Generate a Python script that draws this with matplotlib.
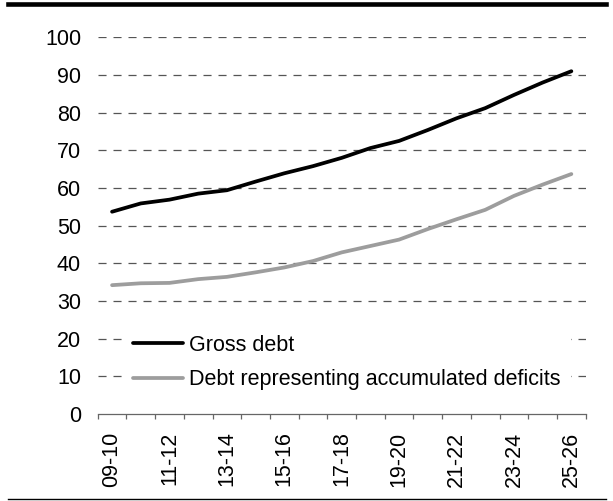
import matplotlib
matplotlib.use("Agg")
import matplotlib.pyplot as plt
from matplotlib.lines import Line2D

plt.rcParams['font.family'] = ['Liberation Sans', 'DejaVu Sans']
plt.rcParams['lines.scale_dashes'] = False

# fiscal years and series (per cent of GDP)
years = ['09-10', '10-11', '11-12', '12-13', '13-14', '14-15', '15-16', '16-17', '17-18',
         '18-19', '19-20', '20-21', '21-22', '22-23', '23-24', '24-25', '25-26']
gross_debt = [53.7, 55.9, 56.9, 58.5, 59.4, 61.7, 63.9, 65.8, 68.0,
              70.6, 72.5, 75.4, 78.5, 81.2, 84.7, 88.0, 91.0]
deficit_debt = [34.2, 34.7, 34.8, 35.8, 36.4, 37.6, 38.9, 40.6, 42.9,
                44.6, 46.3, 49.1, 51.7, 54.2, 57.9, 60.9, 63.7]
yticks = [0, 10, 20, 30, 40, 50, 60, 70, 80, 90, 100]

fs = 15.5
fig = plt.figure(figsize=(6.13, 5.01), dpi=100)
ax = fig.add_axes([0.1594, 0.1737, 0.7961, 0.7518])

x = list(range(len(years)))
ax.plot(x, gross_debt, color='black', lw=2.7, label='Gross debt', solid_capstyle='round', zorder=3)
ax.plot(x, deficit_debt, color='#9d9d9d', lw=2.7, label='Debt representing accumulated deficits',
        solid_capstyle='round', zorder=3)

ax.set_xlim(-0.5, len(years) - 0.5)
ax.set_ylim(0, 100)
ax.set_yticks(yticks)
for v in yticks[1:]:
    ax.axhline(v, color='#555555', lw=0.9, ls=(0, (5.8, 5.0)), zorder=1)

ax.set_xticks(x[::2])
ax.set_xticklabels(years[::2], rotation=90, fontsize=fs)
ax.set_xticks([i - 0.5 for i in range(len(years) + 1)], minor=True)
ax.tick_params(axis='x', which='major', length=0, pad=12.7)
ax.tick_params(axis='x', which='minor', length=3.8, width=0.9, color='#666666', direction='out')
ax.tick_params(axis='y', length=0, pad=12, labelsize=fs)

for side in ['top', 'right', 'left']:
    ax.spines[side].set_visible(False)
ax.spines['bottom'].set_color('#666666')
ax.spines['bottom'].set_linewidth(0.9)

leg = ax.legend(loc='center left', bbox_to_anchor=(0.05, 0.137), fontsize=fs, frameon=True,
                fancybox=False, edgecolor='none', facecolor='white', framealpha=1,
                borderpad=0.5, handlelength=2.35, handletextpad=0.25, labelspacing=0.62,
                borderaxespad=0)
leg.set_zorder(4)

# rules at the top and bottom of the figure
fig.add_artist(Line2D([0.013, 0.988], [0.9924, 0.9924], color='black', lw=3.3,
                      transform=fig.transFigure))
fig.add_artist(Line2D([0.013, 0.988], [0.004, 0.004], color='black', lw=1.0,
                      transform=fig.transFigure))

fig.savefig('out.png', dpi=100)
